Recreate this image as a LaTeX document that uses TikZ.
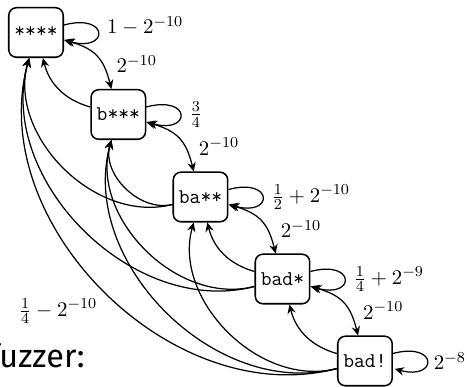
\documentclass[tikz,border=0pt]{standalone}
\usepackage{fontspec}
\newfontfamily\fira{Fira Sans}
\usetikzlibrary{arrows.meta}
\begin{document}
\begin{tikzpicture}[x=0.525pt,y=-0.525pt,
  every node/.style={font=\fontsize{10.8}{13}\selectfont},
  st/.style={draw, line width=0.8pt, rounded corners=4pt, minimum width=28.6pt, minimum height=26pt, inner sep=0pt, font=\fontsize{11}{13}\selectfont\ttfamily},
  ln/.style={line width=0.65pt},
  >={Stealth[length=4.8pt,width=4.4pt,inset=1.6pt]},
  pl/.style={pos=0.5, xshift=21.2pt, yshift=-4.3pt}
]
\useasboundingbox (0,0) rectangle (467,387);
\node[st] (A) at (36,32.5) {****};
\node[st] (B) at (118.3,114.5) {b***};
\node[st] (C) at (200.5,197) {ba**};
\node[st] (D) at (282.5,279) {bad*};
\node[st] (E) at (365,361) {bad!};
\node[font=\fira\fontsize{17}{20}\selectfont, anchor=base east, inner sep=0pt] (fz) at (85,368) {fuzzer:};
% self loops
\path[->, ln] (A) edge[loop right] node[right, xshift=1.2pt, yshift=3.4pt] {$1-2^{-10}$} (A)
  (B) edge[loop right] node[right, xshift=1.2pt] {$\frac34$} (B)
  (C) edge[loop right] node[right, xshift=1.2pt] {$\frac12+2^{-10}$} (C)
  (D) edge[loop right] node[right, xshift=1.2pt] {$\frac14+2^{-9}$} (D)
  (E) edge[loop right] node[right] {$2^{-8}$} (E);
% forward/backward between neighbours
\path[<->, ln] (A) edge[bend left, looseness=1.2] node[pl] {$2^{-10}$} (B)
  (B) edge[bend left, looseness=1.2] node[pl] {$2^{-10}$} (C)
  (C) edge[bend left, looseness=1.2] node[pl] {$2^{-10}$} (D)
  (D) edge[bend left, looseness=1.2] node[pl] {$2^{-10}$} (E);
% back edges
\path[->, ln] (B) edge[bend left=30] (A)
  (C) edge[bend left=60] (A) edge[bend left=60] (B)
  (D) edge[bend left=60] (A) edge[bend left=60] (B) edge[bend left=30] (C)
  (E) edge[bend left=60] node[auto] {$\frac14-2^{-10}$} (A) edge[bend left=60] (B) edge[bend left=60] (C) edge[bend left=30] (D);
\end{tikzpicture}
\end{document}
